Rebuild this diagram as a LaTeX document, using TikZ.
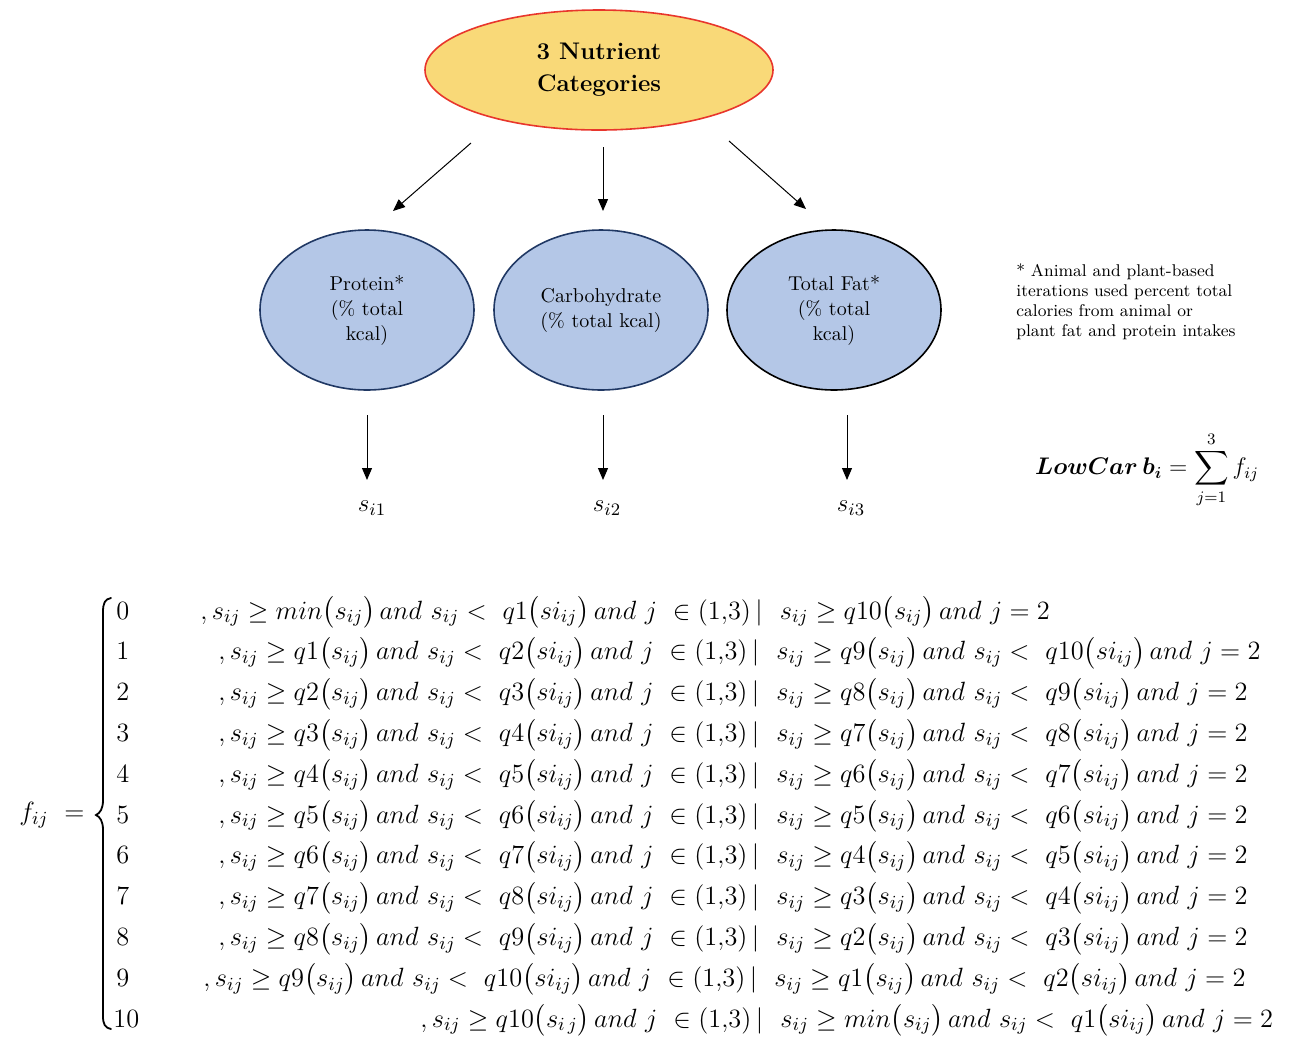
\RequirePackage{fix-cm}
\documentclass[tikz,border=0pt]{standalone}
\usepackage{amsmath,amssymb}
\usetikzlibrary{shapes.geometric,arrows.meta}

\definecolor{catfill}{HTML}{F9D978}
\definecolor{catline}{HTML}{E8362C}
\definecolor{nutfill}{HTML}{B4C7E7}
\definecolor{nutline}{HTML}{203864}

\newcommand\sij{s_{ij}}
\newcommand\pr[1]{\bigl(#1\bigr)}

\begin{document}
\begin{tikzpicture}[x=0.5pt,y=-0.5pt,
  every node/.style={inner sep=0pt},
  cat/.style={ellipse, draw=catline, fill=catfill, line width=0.8pt,
    minimum width=174pt, minimum height=60pt, align=center,
    font=\fontsize{12}{16}\selectfont\bfseries},
  nutri/.style={ellipse, draw=nutline, fill=nutfill, line width=0.8pt,
    minimum width=107pt, minimum height=80pt, align=center,
    font=\fontsize{10}{12.5}\selectfont},
  arr/.style={-{Triangle[width=5pt,length=6pt]}, line width=0.5pt},
  brc/.style={line width=0.9pt, line cap=round},
  num/.style={anchor=base west, font=\fontsize{13.2}{16}\selectfont},
  row/.style={anchor=base west, font=\fontsize{13.2}{16}\selectfont}]

  \useasboundingbox (0,0) rectangle (1296,1046);

  % categories
  \node[cat] (cat) at (599,70) {3 Nutrient\\Categories};
  \node[nutri] (prot) at (367,310) {Protein*\\(\% total\\kcal)};
  \node[nutri] (carb) at (601,310) {Carbohydrate\\(\% total kcal)};
  \node[nutri, draw=black] (fat) at (834,310) {Total Fat*\\(\% total\\kcal)};

  \node[anchor=north west, align=left, font=\fontsize{8.5}{10}\selectfont] (note)
    at (1016,263) {* Animal and plant-based\\iterations used percent total\\calories from animal or\\plant fat and protein intakes};

  % arrows from the top ellipse
  \coordinate (t1) at (471,143); \coordinate (h1) at (393,211);
  \coordinate (t2) at (603,147); \coordinate (h2) at (603,211);
  \coordinate (t3) at (729,141); \coordinate (h3) at (806,209);
  \foreach \i in {1,2,3}{
    \draw[arr] (t\i) -- (h\i);
  }

  % scores
  \node[font=\fontsize{12.5}{15}\selectfont] (s1) at (372,508) {$s_{i1}$};
  \node[font=\fontsize{12.5}{15}\selectfont] (s2) at (607,508) {$s_{i2}$};
  \node[font=\fontsize{12.5}{15}\selectfont] (s3) at (851,508) {$s_{i3}$};
  \coordinate (d1) at (367,415); \coordinate (e1) at (367,480);
  \coordinate (d2) at (603,415); \coordinate (e2) at (603,480);
  \coordinate (d3) at (847,415); \coordinate (e3) at (847,480);
  \foreach \i in {1,2,3}{
    \draw[arr] (d\i) -- (e\i);
  }

  \node[font=\fontsize{12}{15}\selectfont] (lowcarb) at (1147,470)
    {$\boldsymbol{LowCar\,b_i} = \displaystyle\sum_{j=1}^{3} f_{ij}$};

  % piecewise definition
  \node[font=\fontsize{13.2}{16}\selectfont] (f) at (52,815) {$f_{ij}\ =$};
  \draw[brc] (111,598) .. controls (105,599) and (103,603) .. (103,612)
    -- (103,800) .. controls (103,809) and (100,813) .. (96,815)
    .. controls (100,817) and (103,821) .. (103,830)
    -- (103,1016) .. controls (103,1024) and (105,1028) .. (111,1029);

  \node[num] (n0) at (116,619) {0};
  \node[row] (r0) at (200,619)
    {$,\sij \geq min\pr{\sij}\,and\ \sij <\ q1\pr{si_{ij}}\,and\ j\ \in(1{,}3)\,|\ \ \sij \geq q10\pr{\sij}\,and\ j = 2$};

  \foreach \k in {1,...,9}{
    \pgfmathtruncatemacro\kk{\k+1}
    \pgfmathtruncatemacro\rlo{10-\k}
    \pgfmathtruncatemacro\rhi{11-\k}
    \pgfmathsetmacro\rowx{\k==9 ? 203 : 218}
    \node[num] (n\k) at (116,{619+40.8*\k}) {\k};
    \node[row] (r\k) at (\rowx,{619+40.8*\k})
      {$,\sij \geq q\k\pr{\sij}\,and\ \sij <\ q\kk\pr{si_{ij}}\,and\ j\ \in(1{,}3)\,|\ \ \sij \geq q\rlo\pr{\sij}\,and\ \sij <\ q\rhi\pr{si_{ij}}\,and\ j = 2$};
  }

  \node[num] (n10) at (113,1027) {10};
  \node[row] (r10) at (420,1027)
    {$,\sij \geq q10\pr{s_{i\,j}}\,and\ j\ \in(1{,}3)\,|\ \ \sij \geq min\pr{\sij}\,and\ \sij <\ q1\pr{si_{ij}}\,and\ j = 2$};
\end{tikzpicture}
\end{document}
